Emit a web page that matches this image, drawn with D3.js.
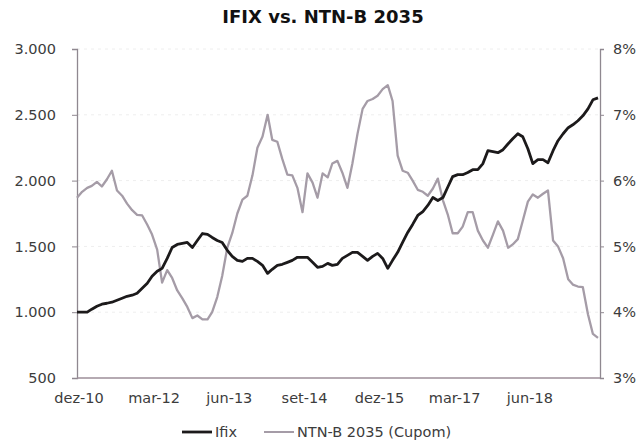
<!DOCTYPE html>
<html>
<head>
<meta charset="utf-8">
<script src="https://cdn.jsdelivr.net/npm/d3@7"></script>
<style>
  body { margin: 0; background: #fff; }
  svg text { font-family: "DejaVu Sans", Verdana, sans-serif; }
</style>
</head>
<body>
<script>
// monthly closes, dez-10 onwards
const startMonth = new Date(2010, 11, 1);

const ifix = [1000,1000,1000,1023,1045,1061,1068,1076,1091,1106,
  1121,1129,1144,1182,1220,1273,1311,1333,1409,1492,
  1515,1523,1530,1492,1545,1598,1591,1568,1545,1530,
  1470,1424,1394,1386,1409,1409,1386,1356,1295,1326,
  1356,1364,1379,1394,1417,1417,1417,1379,1341,1348,
  1371,1356,1364,1409,1432,1455,1455,1424,1394,1424,
  1447,1409,1333,1394,1455,1530,1606,1667,1735,1765,
  1811,1871,1849,1871,1955,2030,2045,2045,2061,2083,
  2083,2129,2227,2220,2212,2235,2280,2318,2356,2333,
  2242,2129,2159,2159,2136,2227,2303,2356,2402,2424,
  2455,2492,2545,2614,2629];

const ntnb = [5.74,5.83,5.89,5.92,5.98,5.91,6.02,6.15,5.85,5.77,
  5.65,5.55,5.48,5.47,5.33,5.18,4.95,4.45,4.64,4.52,
  4.33,4.21,4.08,3.91,3.95,3.89,3.89,4.00,4.23,4.55,
  4.98,5.20,5.50,5.71,5.77,6.08,6.50,6.67,7.00,6.62,
  6.59,6.33,6.09,6.08,5.89,5.52,6.11,5.97,5.74,6.11,
  6.05,6.26,6.30,6.12,5.89,6.26,6.71,7.09,7.21,7.24,
  7.29,7.39,7.45,7.21,6.38,6.15,6.12,6.00,5.86,5.83,
  5.77,5.88,6.03,5.70,5.47,5.20,5.20,5.30,5.52,5.52,
  5.24,5.09,4.98,5.18,5.38,5.24,4.98,5.03,5.11,5.39,
  5.68,5.79,5.74,5.80,5.85,5.09,5.00,4.82,4.50,4.42,
  4.39,4.38,3.97,3.67,3.61];

const xLabels = ["dez-10","mar-12","jun-13","set-14","dez-15","mar-17","jun-18"];
const leftTicks = [500,1000,1500,2000,2500,3000];
const rightTicks = [3,4,5,6,7,8];
const seriesNames = ["Ifix","NTN-B 2035 (Cupom)"];

const monthAt = i => new Date(startMonth.getFullYear(), startMonth.getMonth() + i, 1);
const data = ifix.map((v, i) => ({ date: monthAt(i), ifix: v, ntnb: ntnb[i] }));

const W = 642, H = 443;
const margin = { top: 49, right: 42, bottom: 65, left: 77 };
const width = W - margin.left - margin.right;
const height = H - margin.top - margin.bottom;

const svg = d3.select("body").append("svg")
  .attr("width", W).attr("height", H);

svg.append("text")
  .attr("x", 323).attr("y", 23)
  .attr("text-anchor", "middle")
  .attr("font-size", 18).attr("font-weight", "bold")
  .attr("fill", "#111")
  .text("IFIX vs. NTN-B 2035");

const g = svg.append("g")
  .attr("transform", "translate(" + margin.left + "," + margin.top + ")");

const x = d3.scaleTime().domain([monthAt(0), monthAt(ifix.length - 1)]).range([0, width - 2]);
const yL = d3.scaleLinear().domain([500, 3000]).range([height, 0]);
const yR = d3.scaleLinear().domain([3, 8]).range([height, 0]);

// faint grid
g.append("g")
  .selectAll("line").data(leftTicks.slice(1)).enter().append("line")
  .attr("x1", 0).attr("x2", width)
  .attr("y1", d => yL(d)).attr("y2", d => yL(d))
  .attr("stroke", "#eeeeee").attr("stroke-dasharray", "3,4");

const axisColor = "#8f8890";

const left = g.append("g")
  .call(d3.axisLeft(yL).tickValues(leftTicks).tickSize(5).tickPadding(16)
    .tickFormat(d => d3.format(",")(d).replace(",", ".")));
const right = g.append("g")
  .attr("transform", "translate(" + width + ",0)")
  .call(d3.axisRight(yR).tickValues(rightTicks).tickSize(4).tickPadding(9)
    .tickFormat(d => d + "%"));

[left, right].forEach(a => {
  a.select(".domain").attr("stroke", axisColor).attr("stroke-width", 1.3);
  a.selectAll(".tick line").attr("stroke", axisColor);
  a.selectAll(".tick text").attr("font-size", 14.5).attr("fill", "#3c3c3c");
});

// bottom axis line
g.append("line")
  .attr("x1", 0).attr("x2", width)
  .attr("y1", height).attr("y2", height)
  .attr("stroke", "#9c8e98").attr("stroke-width", 1.4);

g.append("g")
  .selectAll("text").data(xLabels).enter().append("text")
  .attr("x", (d, i) => x(monthAt(i * 15)) + 2)
  .attr("y", height + 25)
  .attr("text-anchor", "middle")
  .attr("font-size", 14.5).attr("fill", "#3c3c3c")
  .text(d => d);

const lineNtnb = d3.line().x(d => x(d.date)).y(d => yR(d.ntnb));
const lineIfix = d3.line().x(d => x(d.date)).y(d => yL(d.ifix));

g.append("path").datum(data)
  .attr("fill", "none").attr("stroke", "#a59ca7")
  .attr("stroke-width", 2.3).attr("stroke-linejoin", "round")
  .attr("d", lineNtnb);

g.append("path").datum(data)
  .attr("fill", "none").attr("stroke", "#1c1a1b")
  .attr("stroke-width", 2.8).attr("stroke-linejoin", "round")
  .attr("d", lineIfix);

// legend
const legend = svg.append("g").attr("transform", "translate(0,432)");
const legendItems = [
  { name: seriesNames[0], color: "#1c1a1b", w: 2.8, x: 182 },
  { name: seriesNames[1], color: "#a59ca7", w: 2, x: 264 }
];
legendItems.forEach(it => {
  legend.append("line")
    .attr("x1", it.x).attr("x2", it.x + 30)
    .attr("y1", 0).attr("y2", 0)
    .attr("stroke", it.color).attr("stroke-width", it.w);
  legend.append("text")
    .attr("x", it.x + 33).attr("y", 5)
    .attr("font-size", 14.5).attr("fill", "#3c3c3c")
    .text(it.name);
});
</script>
</body>
</html>
